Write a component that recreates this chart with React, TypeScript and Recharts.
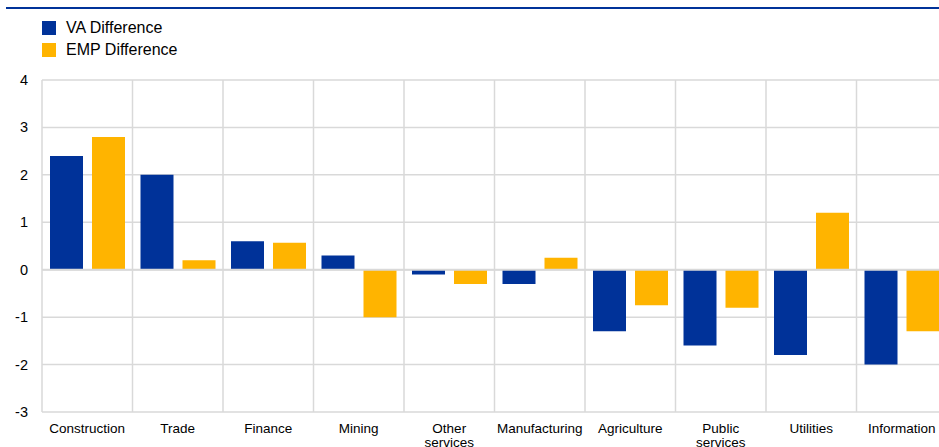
import React from "react";
import { BarChart, Bar, XAxis, YAxis, CartesianGrid, ReferenceLine } from "recharts";

const categories = ["Construction", "Trade", "Finance", "Mining", "Other services", "Manufacturing", "Agriculture", "Public services", "Utilities", "Information"];
const vaDifference = [2.4, 2.0, 0.6, 0.3, -0.1, -0.3, -1.3, -1.6, -1.8, -2.0];
const empDifference = [2.8, 0.2, 0.57, -1.0, -0.3, 0.25, -0.75, -0.8, 1.2, -1.3];
const yTicks = [-3, -2, -1, 0, 1, 2, 3, 4];
const seriesNames = ["VA Difference", "EMP Difference"];

const BLUE = "#003299";
const YELLOW = "#FFB400";
const GRID = "#d9d9d9";
const FONT = "Liberation Sans, Arial, sans-serif";

const data = categories.map((c, i) => ({ name: c, va: vaDifference[i], emp: empDifference[i] }));

const XTick = (props: any) => {
  const { x, y, payload } = props;
  const words = String(payload.value).split(" ");
  return (
    <text x={x} y={y} textAnchor="middle" fontFamily={FONT} fontSize={13.5} fill="#000">
      {words.map((w, i) => (
        <tspan key={i} x={x} dy={i === 0 ? 13 : 14}>{w}</tspan>
      ))}
    </text>
  );
};

const YTick = (props: any) => {
  const { x, y, payload } = props;
  return (
    <text x={x} y={y} dy={5} textAnchor="end" fontFamily={FONT} fontSize={14.5} fill="#000">
      {payload.value}
    </text>
  );
};

export default function App() {
  return (
    <div style={{ position: "absolute", left: 0, top: 0, width: 939, height: 447, overflow: "hidden", background: "#fff", fontFamily: FONT }}>
      <div style={{ position: "absolute", left: 6, top: 7, width: 933, height: 2, background: BLUE }} />
      {seriesNames.map((n, i) => (
        <div key={n} style={{ position: "absolute", left: 42, top: 21 + i * 22, height: 14, display: "flex", alignItems: "center" }}>
          <div style={{ width: 14, height: 14, background: i === 0 ? BLUE : YELLOW }} />
          <span style={{ marginLeft: 10, fontSize: 16, color: "#000", lineHeight: "14px" }}>{n}</span>
        </div>
      ))}
      <div style={{ position: "absolute", left: 0, top: 0 }}>
        <BarChart
          width={961}
          height={447}
          data={data}
          margin={{ top: 80, right: 14, bottom: 0, left: 0 }}
          barCategoryGap={8}
          barGap={9}
        >
          <CartesianGrid
            stroke={GRID}
            strokeWidth={1.5}
            verticalCoordinatesGenerator={({ offset }: any) =>
              categories.map((_, i) => offset.left + (i * offset.width) / categories.length)
            }
          />
          <XAxis dataKey="name" interval={0} axisLine={false} tickLine={false} height={35} tick={<XTick />} />
          <YAxis
            domain={[-3, 4]}
            ticks={yTicks}
            width={42}
            axisLine={false}
            tickLine={false}
            tickSize={0}
            tickMargin={14}
            tick={<YTick />}
          />
          <ReferenceLine y={0} stroke={GRID} strokeWidth={2} />
          <Bar dataKey="va" name={seriesNames[0]} fill={BLUE} isAnimationActive={false} />
          <Bar dataKey="emp" name={seriesNames[1]} fill={YELLOW} isAnimationActive={false} />
        </BarChart>
      </div>
    </div>
  );
}
